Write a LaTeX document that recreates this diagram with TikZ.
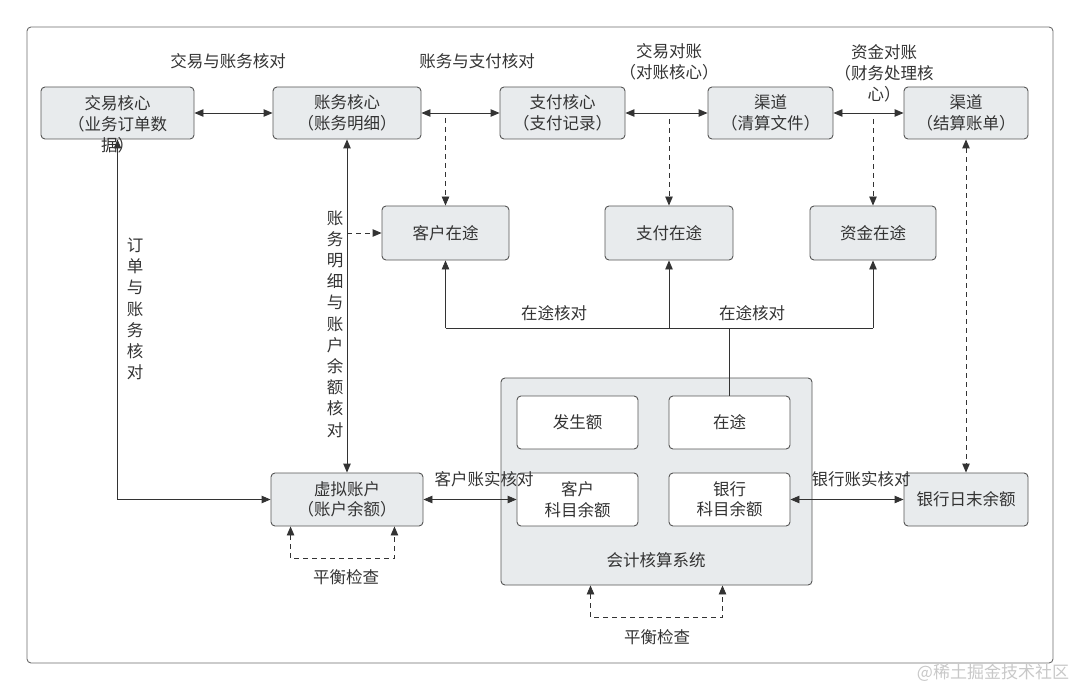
\documentclass[tikz,border=0pt]{standalone}
\usepackage{fontspec}
\setmainfont{Noto Sans CJK SC}
\usetikzlibrary{arrows.meta,calc}
\definecolor{boxfill}{HTML}{E8EBED}
\definecolor{boxline}{HTML}{555555}
\definecolor{txt}{HTML}{333333}
\definecolor{framec}{HTML}{6B6B6B}
\definecolor{wm}{HTML}{C8C8C8}
\begin{document}
\begin{tikzpicture}[x=1pt,y=-1pt,
  every node/.style={text=txt, font=\fontsize{16.5}{20.5}\selectfont, inner sep=0pt},
  gbox/.style={draw=boxline, fill=boxfill, rounded corners=4pt, line width=0.9pt, align=center},
  wbox/.style={draw=boxline, fill=white, rounded corners=4pt, line width=0.9pt, align=center},
  lab/.style={align=center},
  vlab/.style={align=center, font=\fontsize{16.5}{21.2}\selectfont},
  conn/.style={draw=txt, line width=0.9pt},
  both/.style={conn, {Triangle[length=9pt,width=7.5pt]}-{Triangle[length=9pt,width=7.5pt]}},
  tip/.style={conn, -{Triangle[length=9pt,width=7.5pt]}},
  dconn/.style={conn, dash pattern=on 5pt off 4pt},
]
\useasboundingbox (0,0) rectangle (1080,690);
\node[draw=framec, line width=0.9pt, rounded corners=4pt, minimum width=1026pt, minimum height=636pt] (frame) at (540,345) {};

% top row
\node[gbox, minimum width=153pt, minimum height=52pt] (trade) at (117.5,113) {};
\node[gbox, minimum width=148pt, minimum height=52pt] (ledger) at (347,113) {账务核心\\（账务明细）};
\node[gbox, minimum width=125pt, minimum height=52pt] (pay) at (562.5,113) {支付核心\\（支付记录）};
\node[gbox, minimum width=125pt, minimum height=52pt] (clear) at (770.5,113) {渠道\\（清算文件）};
\node[gbox, minimum width=124pt, minimum height=52pt] (settle) at (966,113) {渠道\\（结算账单）};

% in-transit row
\node[gbox, minimum width=127pt, minimum height=54pt] (cust) at (445.5,233) {客户在途};
\node[gbox, minimum width=128pt, minimum height=54pt] (payt) at (669,233) {支付在途};
\node[gbox, minimum width=126pt, minimum height=54pt] (fund) at (873,233) {资金在途};

% bottom
\node[gbox, minimum width=152pt, minimum height=53pt] (va) at (347,499.5) {虚拟账户\\（账户余额）};
\node[gbox, minimum width=311pt, minimum height=207pt] (acct) at (656.5,481.5) {};
\node[wbox, minimum width=121pt, minimum height=53pt] (occ) at (577.5,422.5) {发生额};
\node[wbox, minimum width=121pt, minimum height=53pt] (intr) at (729.5,422.5) {在途};
\node[wbox, minimum width=121pt, minimum height=53pt] (cbal) at (577.5,499.5) {客户\\科目余额};
\node[wbox, minimum width=121pt, minimum height=53pt] (bbal) at (729.5,499.5) {银行\\科目余额};
\node[gbox, minimum width=124pt, minimum height=53pt] (bday) at (966,499.5) {银行日末余额};

% connectors top
\draw[both] (trade.east) -- (ledger.west);
\draw[both] (ledger.east) -- (pay.west);
\draw[both] (pay.east) -- (clear.west);
\draw[both] (clear.east) -- (settle.west);

\coordinate (d1) at (445.5,118);
\coordinate (d2) at (669,119);
\coordinate (d3) at (873,119);
\draw[dconn,tip] (d1) -- (cust.north);
\draw[dconn,tip] (d2) -- (payt.north);
\draw[dconn,tip] (d3) -- (fund.north);

% left side
\draw[both] (trade.south) -- (trade.south |- va.west) -- (va.west);
\draw[both] (ledger.south) -- (va.north);
\draw[dconn,tip] (ledger.south |- cust.west) -- (cust.west);

% in-transit check
\coordinate (bus) at (729.5,328);
\draw[conn] (intr.north) -- (bus);
\draw[conn] (cust.south |- bus) -- (fund.south |- bus);
\draw[tip] (cust.south |- bus) -- (cust.south);
\draw[tip] (payt.south |- bus) -- (payt.south);
\draw[tip] (fund.south |- bus) -- (fund.south);

% account reconciliation
\draw[both] (va.east) -- (cbal.west);
\draw[both] (bbal.east) -- (bday.west);
\draw[dconn,both] (settle.south) -- (bday.north);

% balance checks
\draw[dconn,both] ([xshift=20pt]va.south west) -- ++(0,32) -| ([xshift=-29pt]va.south east);
\draw[dconn,both] ([xshift=-66pt]acct.south) -- ++(0,32) -| ([xshift=66pt]acct.south);

% texts
\node[lab, font=\fontsize{16.5}{21}\selectfont] (tradetxt) at (117.5,124) {交易核心\\（业务订单数\\据）};
\node[lab] (l1) at (228,61) {交易与账务核对};
\node[lab] (l2) at (477,61) {账务与支付核对};
\node[lab] (l3) at (669,62) {交易对账\\（对账核心）};
\node[lab, font=\fontsize{16.5}{21}\selectfont] (l4) at (884,73) {资金对账\\（财务处理核\\心）};
\node[lab] (l5) at (554,313) {在途核对};
\node[lab] (l6) at (752,313) {在途核对};
\node[vlab] (l7) at (135,309) {订\\单\\与\\账\\务\\核\\对};
\node[vlab] (l8) at (335,324) {账\\务\\明\\细\\与\\账\\户\\余\\额\\核\\对};
\node[lab] (l9) at (484,479) {客户账实核对};
\node[lab] (l10) at (861,479) {银行账实核对};
\node[lab] (l11) at (346,577) {平衡检查};
\node[lab] (l12) at (657,637) {平衡检查};
\node[lab] (l13) at (656,560) {会计核算系统};
\node[text=wm, font=\fontsize{17}{17}\selectfont] (wmark) at (993,673) {@稀土掘金技术社区};
\end{tikzpicture}
\end{document}
